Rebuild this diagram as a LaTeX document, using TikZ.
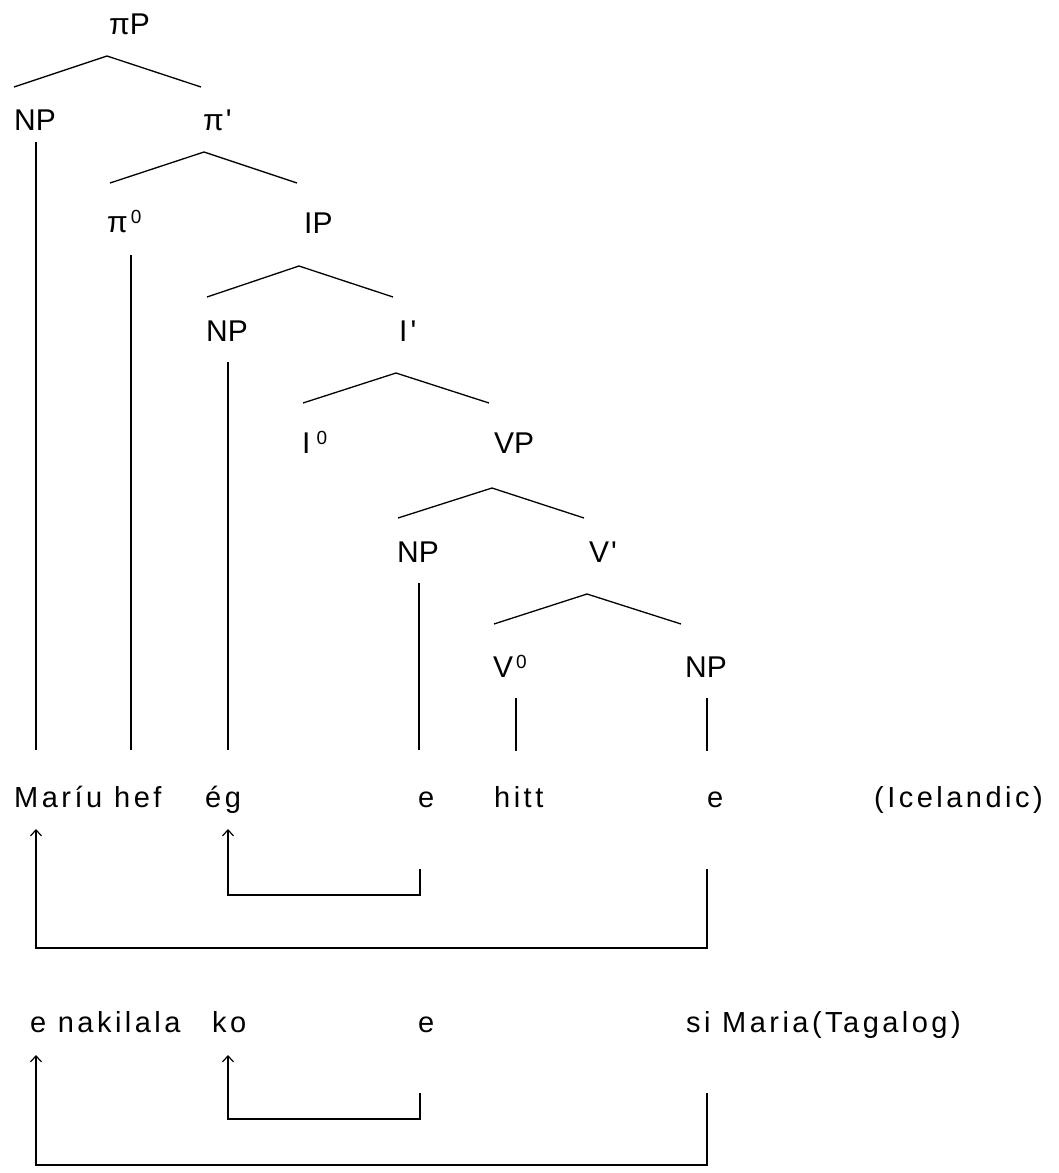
\documentclass[tikz,border=0pt]{standalone}
\usepackage{fontspec}
\setmainfont{Liberation Sans}[Ligatures=TeXOff]
\newfontfamily\wfont{Liberation Sans}[LetterSpace=12,Ligatures=TeXOff]
\usetikzlibrary{arrows.meta}
\newcommand{\supz}{\kern3pt\raisebox{9pt}{\fontsize{19}{19}\selectfont 0}}
\begin{document}
\begin{tikzpicture}[x=1pt,y=-1pt,
  lab/.style={inner sep=0pt, anchor=base west, font=\fontsize{30}{30}\selectfont},
  wd/.style={inner sep=0pt, anchor=base west, font={\wfont\fontsize{29}{29}\selectfont}},
  br/.style={line width=1.3pt},
  mv/.style={line width=1.3pt, -{Straight Barb[length=6pt,width=11pt,line width=1.2pt]}}]
\useasboundingbox (0,0) rectangle (1058,1173);
% tree labels
\node[lab] (piP) at (109,34) {πP};
\node[lab] (np1) at (14,130) {NP};
\node[lab] (pibar) at (203,130) {π\kern2pt'};
\node[lab] (pi0) at (107,232) {π\supz};
\node[lab] (ip) at (304,233) {IP};
\node[lab] (np2) at (206,341) {NP};
\node[lab] (ibar) at (399,341) {I\kern3pt'};
\node[lab] (i0) at (302,453) {I\kern3pt\supz};
\node[lab] (vp) at (494,453) {VP};
\node[lab] (np3) at (397,562) {NP};
\node[lab] (vbar) at (589,562) {V\kern2pt'};
\node[lab] (v0) at (493,677) {V\supz};
\node[lab] (np4) at (685,677) {NP};
% branch coordinates
\coordinate (a1) at (107,56);  \coordinate (l1) at (14,87);   \coordinate (r1) at (201,87);
\coordinate (a2) at (204,152); \coordinate (l2) at (110,183); \coordinate (r2) at (297,183);
\coordinate (a3) at (299,266); \coordinate (l3) at (207,297); \coordinate (r3) at (393,297);
\coordinate (a4) at (396,373); \coordinate (l4) at (303,403); \coordinate (r4) at (489,403);
\coordinate (a5) at (492,488); \coordinate (l5) at (398,518); \coordinate (r5) at (584,518);
\coordinate (a6) at (587,594); \coordinate (l6) at (494,624); \coordinate (r6) at (681,624);
\foreach \i in {1,...,6} { \draw[br] (l\i) -- (a\i) -- (r\i); }
% vertical lines
\coordinate (v1t) at (36,142);  \coordinate (v1b) at (36,750);
\coordinate (v2t) at (131,255); \coordinate (v2b) at (131,750);
\coordinate (v3t) at (228,362); \coordinate (v3b) at (228,750);
\coordinate (v4t) at (419,583); \coordinate (v4b) at (419,750);
\coordinate (v5t) at (516,698); \coordinate (v5b) at (516,751);
\coordinate (v6t) at (707,698); \coordinate (v6b) at (707,751);
\foreach \i in {1,...,6} { \draw[br] (v\i t) -- (v\i b); }
% Icelandic line
\node[wd] (w1) at (14,807) {Maríu};
\node[wd] (w2) at (114,807) {hef};
\node[wd] (w3) at (205,807) {ég};
\node[wd] (w4) at (418,807) {e};
\node[wd] (w5) at (494,807) {hitt};
\node[wd] (w6) at (707,807) {e};
\node[wd] (w7) at (874,807) {(Icelandic)};
% Icelandic movement
\coordinate (im1) at (36,829);  \coordinate (im2) at (228,829);
\coordinate (ie1) at (420,869); \coordinate (ie1b) at (420,895);
\coordinate (ie2) at (707,869); \coordinate (ie2b) at (707,948);
\draw[mv] (ie1) -- (ie1b) -| (im2);
\draw[mv] (ie2) -- (ie2b) -| (im1);
% Tagalog line
\node[wd] (t1) at (30,1032) {e nakilala};
\node[wd] (t2) at (212,1032) {ko};
\node[wd] (t3) at (418,1032) {e};
\node[wd] (t4) at (686,1032) {si Maria(Tagalog)};
% Tagalog movement
\coordinate (tm1) at (36,1055);  \coordinate (tm2) at (228,1055);
\coordinate (te1) at (420,1093); \coordinate (te1b) at (420,1119);
\coordinate (te2) at (707,1093); \coordinate (te2b) at (707,1165);
\draw[mv] (te1) -- (te1b) -| (tm2);
\draw[mv] (te2) -- (te2b) -| (tm1);
\end{tikzpicture}
\end{document}
